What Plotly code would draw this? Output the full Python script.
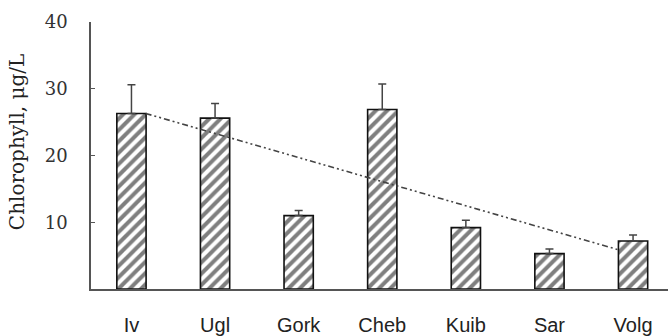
import plotly.graph_objects as go

# Mean chlorophyll concentration by reservoir, with upper error bars
stations = ["Iv", "Ugl", "Gork", "Cheb", "Kuib", "Sar", "Volg"]
chlorophyll = [26.3, 25.6, 11.0, 26.9, 9.2, 5.3, 7.2]
error_upper = [4.3, 2.2, 0.75, 3.8, 1.1, 0.7, 0.9]

# Downstream trend line (category position, value)
trend_pos = [0.17, 5.83]
trend_val = [26.3, 5.86]

y_ticks = [10, 20, 30, 40]

W, H = 668, 336
ML, MR, MT, MB = 91, 0, 22, 40
plot_w = W - ML - MR

positions = list(range(len(stations)))

fig = go.Figure()

fig.add_trace(go.Bar(
    x=positions,
    y=chlorophyll,
    width=0.35,
    marker=dict(
        color="white",
        line=dict(color="#111111", width=1.6),
        pattern=dict(shape="/", size=8, solidity=0.5,
                     fgcolor="#000000", bgcolor="white"),
    ),
    error_y=dict(
        type="data", symmetric=False,
        array=error_upper, arrayminus=[0] * len(error_upper),
        color="#444444", thickness=1.5, width=4,
    ),
    showlegend=False,
))

fig.add_trace(go.Scatter(
    x=trend_pos,
    y=trend_val,
    mode="lines",
    line=dict(color="#444444", width=1.6, dash="6px,3px,2px,3px,2px,3px"),
    showlegend=False,
))

fig.update_layout(
    width=W, height=H,
    margin=dict(l=ML, r=MR, t=MT, b=MB),
    paper_bgcolor="white",
    plot_bgcolor="white",
    bargap=0.65,
)

fig.update_xaxes(
    range=[-0.484, 6.418],
    tickmode="array",
    tickvals=positions,
    ticktext=stations,
    ticks="",
    ticklabelstandoff=17,
    tickfont=dict(family="Liberation Sans, Arial", size=20, color="#222222"),
    showline=True, linecolor="#555555", linewidth=1.5,
    showgrid=False, zeroline=False,
)

fig.update_yaxes(
    range=[0, 40],
    tickmode="array",
    tickvals=y_ticks,
    ticks="inside", ticklen=4, tickcolor="#555555", tickwidth=1,
    ticklabelstandoff=18,
    tickfont=dict(family="DejaVu Serif", size=18, color="#333333"),
    showline=True, linecolor="#555555", linewidth=1.5,
    showgrid=False, zeroline=False,
)

fig.add_annotation(
    text="Chlorophyll, μg/L",
    xref="paper", yref="paper",
    x=-(ML - 17) / plot_w, y=0.55,
    xanchor="center", yanchor="middle",
    textangle=-90, showarrow=False,
    font=dict(family="DejaVu Serif", size=20, color="#222222"),
)

fig.write_html("out.html")
